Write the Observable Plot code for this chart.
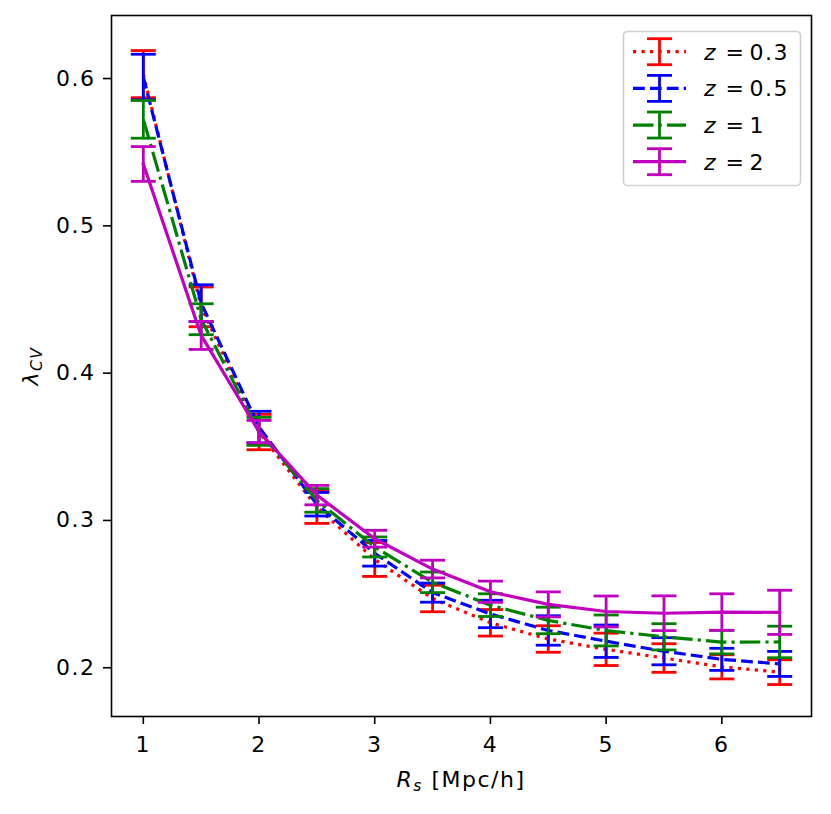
<!DOCTYPE html>
<html><head><meta charset="utf-8">
<script src="https://cdn.jsdelivr.net/npm/d3@7"></script>
<script src="https://cdn.jsdelivr.net/npm/@observablehq/plot@0.6"></script>
<style>
body{margin:0;background:#fff;}
#wrap{position:relative;width:831px;height:814px;}
</style></head><body><div id="wrap"></div>
<script>
const rs = [1, 1.5, 2, 2.5, 3, 3.5, 4, 4.5, 5, 5.5, 6, 6.5];
const zLabels = ["0.3", "0.5", "1", "2"];
const lam03 = [0.603, 0.445, 0.360, 0.309, 0.2735, 0.247, 0.2305, 0.2195, 0.2125, 0.2066, 0.2006, 0.197];
const err03 = [0.016, 0.0135, 0.012, 0.011, 0.0115, 0.009, 0.009, 0.009, 0.011, 0.0097, 0.0082, 0.0084];
const lam05 = [0.601, 0.4475, 0.3634, 0.311, 0.2777, 0.251, 0.2365, 0.2253, 0.218, 0.2112, 0.2057, 0.2026];
const err05 = [0.0155, 0.0125, 0.0107, 0.008, 0.0087, 0.0065, 0.0093, 0.010, 0.011, 0.0092, 0.0075, 0.0085];
const lam1 = [0.5723, 0.4366, 0.3605, 0.3136, 0.282, 0.258, 0.2425, 0.2321, 0.2253, 0.221, 0.2174, 0.2175];
const err1 = [0.0128, 0.0105, 0.0095, 0.008, 0.0068, 0.007, 0.0077, 0.009, 0.0105, 0.0089, 0.008, 0.0107];
const lam2 = [0.542, 0.4256, 0.3603, 0.3172, 0.2876, 0.267, 0.2516, 0.243, 0.2382, 0.2370, 0.2378, 0.2376];
const err2 = [0.0118, 0.0095, 0.0076, 0.0066, 0.0057, 0.006, 0.0072, 0.0085, 0.0105, 0.0118, 0.0124, 0.015];
const xTicks = [1, 2, 3, 4, 5, 6];
const yTicks = [0.2, 0.3, 0.4, 0.5, 0.6];

const colors = ["#ff0000", "#0000ff", "#008000", "#bf00bf"];
const dashes = ["3.2,5.3", "11.8,5.1", "20.5,5.1,3.2,5.1", null];
const values = [lam03, lam05, lam1, lam2];
const errors = [err03, err05, err1, err2];

const series = values.map((vals, i) => rs.map((x, j) => ({x, y: vals[j], e: errors[i][j]})));

const capSymbol = {draw(ctx, size) { const r = Math.sqrt(size / Math.PI); ctx.moveTo(-r, 0); ctx.lineTo(r, 0); }};

const LW = 3.2, EW = 2.8;
const marks = [];
series.forEach((data, i) => {
  const c = colors[i];
  marks.push(Plot.ruleX(data, {x: "x", y1: d => d.y - d.e, y2: d => d.y + d.e, stroke: c, strokeWidth: EW}));
  marks.push(Plot.dot(data, {x: "x", y: d => d.y + d.e, symbol: capSymbol, r: 12.5, stroke: c, fill: "none", strokeWidth: EW}));
  marks.push(Plot.dot(data, {x: "x", y: d => d.y - d.e, symbol: capSymbol, r: 12.5, stroke: c, fill: "none", strokeWidth: EW}));
  const lineOpts = {x: "x", y: "y", stroke: c, strokeWidth: LW, strokeLinejoin: "round", strokeLinecap: dashes[i] ? "butt" : "square"};
  if (dashes[i]) lineOpts.strokeDasharray = dashes[i];
  marks.push(Plot.line(data, lineOpts));
});

const FS = 22;
const chart = Plot.plot({
  width: 831, height: 814,
  marginLeft: 111, marginRight: 20, marginTop: 15, marginBottom: 98,
  style: {fontFamily: "DejaVu Sans", fontSize: FS + "px", color: "black", background: "white", letterSpacing: "1.5px"},
  x: {domain: [0.725, 6.775]},
  y: {domain: [0.1669, 0.6428]},
  marks: [
    ...marks,
    Plot.frame({stroke: "black", strokeWidth: 1.6}),
    Plot.axisX({ticks: xTicks, tickSize: 8, tickPadding: 12, fontSize: FS, label: null, strokeWidth: 1.6, tickFormat: d3.format("d")}),
    Plot.axisY({ticks: yTicks, tickSize: 8, tickPadding: 8, fontSize: FS, label: null, strokeWidth: 1.6, tickFormat: d => d.toFixed(1)})
  ]
});
document.getElementById("wrap").appendChild(chart);

const svg = d3.select(chart);
const F = "DejaVu Sans";
// x label
const xl = svg.append("text").attr("x", 461).attr("y", 787).attr("text-anchor", "middle")
  .attr("font-family", F).attr("font-size", FS).attr("fill", "black");
xl.append("tspan").attr("font-style", "italic").text("R");
xl.append("tspan").attr("font-style", "italic").attr("font-size", 15.5).attr("dy", 4).text("s");
xl.append("tspan").attr("dy", -4).text(" [Mpc/h]");
// y label
const yl = svg.append("text").attr("transform", "translate(38,366) rotate(-90)").attr("text-anchor", "middle")
  .attr("font-family", F).attr("font-size", FS).attr("fill", "black");
yl.append("tspan").attr("font-style", "italic").text("λ");
yl.append("tspan").attr("font-style", "italic").attr("font-size", 15.5).attr("dy", 4).text("CV");

// legend
const lg = svg.append("g");
lg.append("rect").attr("x", 623.5).attr("y", 31.5).attr("width", 177).attr("height", 154).attr("rx", 4)
  .attr("fill", "white").attr("fill-opacity", 0.8).attr("stroke", "#d0d0d0").attr("stroke-width", 1.6);
zLabels.forEach((lab, i) => {
  const cy = 51.7 + i * 36.67;
  const c = colors[i];
  const ln = lg.append("line").attr("x1", 633).attr("x2", 686).attr("y1", cy).attr("y2", cy)
    .attr("stroke", c).attr("stroke-width", LW);
  if (dashes[i]) ln.attr("stroke-dasharray", dashes[i]);
  lg.append("line").attr("x1", 659.5).attr("x2", 659.5).attr("y1", cy - 13).attr("y2", cy + 13).attr("stroke", c).attr("stroke-width", EW);
  lg.append("line").attr("x1", 647).attr("x2", 672).attr("y1", cy - 13).attr("y2", cy - 13).attr("stroke", c).attr("stroke-width", EW);
  lg.append("line").attr("x1", 647).attr("x2", 672).attr("y1", cy + 13).attr("y2", cy + 13).attr("stroke", c).attr("stroke-width", EW);
  const t = lg.append("text").attr("x", 704).attr("y", cy).attr("dy", "0.36em").attr("text-anchor", "start")
    .attr("font-family", F).attr("font-size", FS).attr("fill", "black");
  t.append("tspan").attr("font-style", "italic").text("z");
  t.append("tspan").text(" =");
  t.append("tspan").attr("dx", 4).text(lab);
});
</script></body></html>
